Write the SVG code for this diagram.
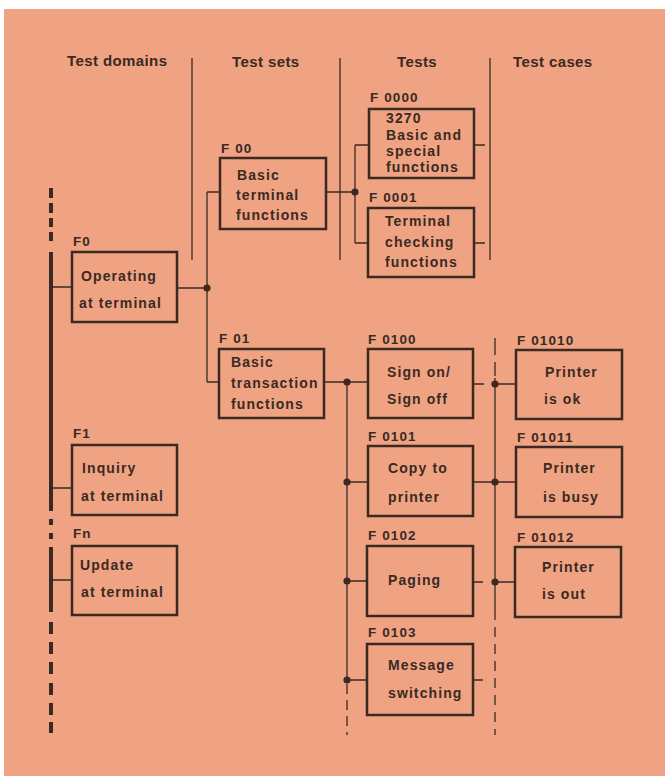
<svg xmlns="http://www.w3.org/2000/svg" width="665" height="776" viewBox="0 0 665 776">
<style>
.t{font-family:"Liberation Sans",Arial,sans-serif;font-weight:bold;fill:#3a2a22;font-size:14px;letter-spacing:1.1px}
.h{font-size:15px;letter-spacing:0.4px}
.l{font-size:13.5px;letter-spacing:1.1px}
.b{fill:none;stroke:#3a2a22;stroke-width:2.5}
.c{fill:none;stroke:#3a2a22;stroke-width:1.3}
.d{fill:#3a2a22}
.bar{fill:none;stroke:#3a2a22;stroke-width:4}
</style>
<rect width="665" height="776" fill="#ffffff"/>
<rect x="4" y="9" width="661" height="767" fill="#efa383"/>
<g id="headers">
<text class="t h" x="67" y="66">Test domains</text>
<text class="t h" x="232" y="67">Test sets</text>
<text class="t h" x="397" y="67">Tests</text>
<text class="t h" x="513" y="67">Test cases</text>
</g>
<g id="connectors">
<path class="c" d="M192 58V260M340 58V260M490 58V260"/>
<path class="bar" d="M51 188V198M51 203V213M51 218V227M51 232V241M51 252V511M51 519V525M51 533V539M51 547V612M51 622V634M51 642V654M51 662V674M51 683V695M51 703V715M51 722V733"/>
<path class="c" d="M51 287H72M51 488H72M51 580H72"/>
<path class="c" d="M177 288H207M207 192V382M207 192H220M207 382H219"/>
<path class="c" d="M326 192H355M355 145V243M355 145H369M355 243H368M474 145H485M474 243H485"/>
<path class="c" d="M324 382H368M347 382V680M347 482H368M347 581H367M347 680H367"/>
<path class="c" stroke-dasharray="10 6" d="M347 684V735"/>
<path class="c" d="M473 384H484M473 482H516M473 582H483M473 680H483"/>
<path class="c" d="M495 338V355M495 362V376M495 378V620M495 384H516M495 582H515"/>
<path class="c" stroke-dasharray="10 7" d="M495 627V735"/>
<circle class="d" cx="207" cy="288" r="3.6"/>
<circle class="d" cx="355" cy="192" r="3.6"/>
<circle class="d" cx="347" cy="382" r="3.6"/>
<circle class="d" cx="347" cy="482" r="3.6"/>
<circle class="d" cx="347" cy="581" r="3.6"/>
<circle class="d" cx="347" cy="680" r="3.6"/>
<circle class="d" cx="495" cy="384" r="3.6"/>
<circle class="d" cx="495" cy="482" r="3.6"/>
<circle class="d" cx="495" cy="582" r="3.6"/>
</g>
<g id="F0">
<text class="t l" x="73" y="246">F0</text>
<rect class="b" x="72" y="252" width="105" height="70"/>
<text class="t" x="81" y="281">Operating</text>
<text class="t" x="79" y="308">at terminal</text>
</g>
<g id="F1">
<text class="t l" x="73" y="438">F1</text>
<rect class="b" x="72" y="445" width="105" height="70"/>
<text class="t" x="82" y="473">Inquiry</text>
<text class="t" x="81" y="501">at terminal</text>
</g>
<g id="Fn">
<text class="t l" x="73" y="538">Fn</text>
<rect class="b" x="72" y="546" width="105" height="69"/>
<text class="t" x="80" y="570">Update</text>
<text class="t" x="81" y="597">at terminal</text>
</g>
<g id="F00">
<text class="t l" x="221" y="153">F 00</text>
<rect class="b" x="220" y="158" width="106" height="71"/>
<text class="t" x="237" y="180">Basic</text>
<text class="t" x="236" y="200">terminal</text>
<text class="t" x="236" y="220">functions</text>
</g>
<g id="F01">
<text class="t l" x="219" y="343">F 01</text>
<rect class="b" x="219" y="349" width="105" height="69"/>
<text class="t" x="231" y="367">Basic</text>
<text class="t" x="231" y="388">transaction</text>
<text class="t" x="231" y="409">functions</text>
</g>
<g id="F0000">
<text class="t l" x="370" y="102">F 0000</text>
<rect class="b" x="369" y="109" width="105" height="69"/>
<text class="t" x="386" y="123">3270</text>
<text class="t" x="386" y="140">Basic and</text>
<text class="t" x="386" y="156">special</text>
<text class="t" x="386" y="172">functions</text>
</g>
<g id="F0001">
<text class="t l" x="369" y="202">F 0001</text>
<rect class="b" x="368" y="208" width="106" height="69"/>
<text class="t" x="385" y="226">Terminal</text>
<text class="t" x="385" y="247">checking</text>
<text class="t" x="385" y="267">functions</text>
</g>
<g id="F0100">
<text class="t l" x="368" y="344">F 0100</text>
<rect class="b" x="368" y="349" width="105" height="69"/>
<text class="t" x="387" y="377">Sign on/</text>
<text class="t" x="387" y="404">Sign off</text>
</g>
<g id="F0101">
<text class="t l" x="368" y="441">F 0101</text>
<rect class="b" x="368" y="446" width="105" height="70"/>
<text class="t" x="388" y="473">Copy to</text>
<text class="t" x="388" y="502">printer</text>
</g>
<g id="F0102">
<text class="t l" x="368" y="540">F 0102</text>
<rect class="b" x="367" y="546" width="106" height="70"/>
<text class="t" x="388" y="585">Paging</text>
</g>
<g id="F0103">
<text class="t l" x="368" y="637">F 0103</text>
<rect class="b" x="367" y="644" width="106" height="71"/>
<text class="t" x="388" y="670">Message</text>
<text class="t" x="388" y="698">switching</text>
</g>
<g id="F01010">
<text class="t l" x="517" y="345">F 01010</text>
<rect class="b" x="516" y="350" width="106" height="69"/>
<text class="t" x="545" y="377">Printer</text>
<text class="t" x="544" y="404">is ok</text>
</g>
<g id="F01011">
<text class="t l" x="517" y="442">F 01011</text>
<rect class="b" x="516" y="447" width="106" height="70"/>
<text class="t" x="543" y="473">Printer</text>
<text class="t" x="543" y="502">is busy</text>
</g>
<g id="F01012">
<text class="t l" x="517" y="542">F 01012</text>
<rect class="b" x="515" y="547" width="106" height="70"/>
<text class="t" x="542" y="572">Printer</text>
<text class="t" x="542" y="599">is out</text>
</g>
</svg>
